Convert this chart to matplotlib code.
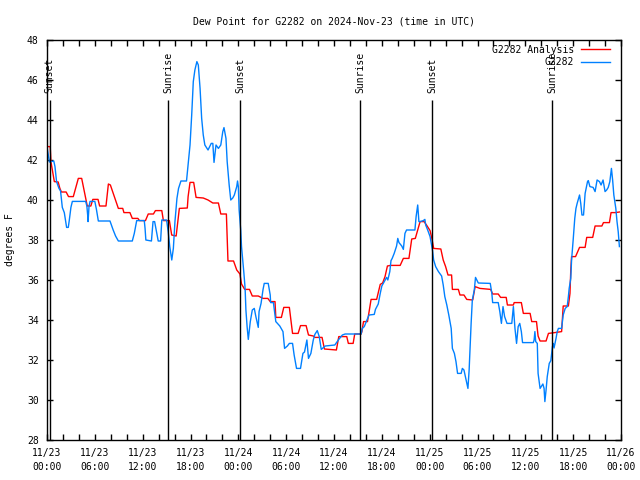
import matplotlib
matplotlib.use("Agg")
import matplotlib.pyplot as plt
import matplotlib.dates as mdates
import pandas as pd

plt.rcParams["font.family"] = ["DejaVu Sans Mono"]
plt.rcParams["font.size"] = 7

# hours since 2024-11-23 00:00 UTC, dew point in F
analysis_h = [0, 0.4, 0.5, 0.92, 1.4, 1.6, 1.8, 2.4, 2.7, 3.3, 3.93, 4.35, 4.9, 5.05, 5.5, 5.75,
              6.4, 6.6, 7.4, 7.7, 7.95, 8.95, 9.5, 9.65, 10.4, 10.7, 11.4, 11.6, 12.35, 12.7, 13.35,
              13.6, 14.4, 14.6, 15.35, 15.64, 16.2, 16.6, 17.6, 17.7, 17.94, 18.4, 18.7, 19.6, 20.2,
              20.8, 21.5, 21.8, 22.5, 22.7, 23.4, 23.8, 24.2, 24.4, 24.8, 25.4, 25.75, 26.5, 27.1,
              27.7, 28.0, 28.6, 28.7, 29.4, 29.7, 30.4, 30.8, 31.5, 31.8, 32.5, 32.8, 33.4, 33.6,
              34.5, 34.8, 36.3, 36.6, 37.6, 37.8, 38.4, 38.6, 39.4, 39.5, 39.7, 40.2, 40.65, 41.35,
              41.8, 42.1, 42.4, 42.7, 43.1, 44.3, 44.7, 45.4, 45.75, 46.2, 46.8, 47.3, 47.6, 48.05,
              48.3, 48.5, 49.4, 49.7, 50.0, 50.3, 50.75, 50.85, 51.6, 51.8, 52.3, 52.65, 53.4, 53.7,
              54.3, 55.65, 55.9, 56.6, 56.9, 57.6, 57.75, 58.5, 58.6, 59.5, 59.75, 60.6, 60.8, 61.4,
              61.6, 61.85, 62.6, 62.9, 63.7, 64.55, 64.75, 65.4, 65.6, 65.7, 65.8, 66.3, 66.8, 67.5,
              67.7, 68.45, 68.75, 69.6, 69.8, 70.55, 70.75, 71.3, 71.8]
analysis_v = [42.67, 42.67, 41.9, 40.92, 40.9, 40.6, 40.4, 40.4, 40.17, 40.17, 41.08, 41.08, 40.0,
              39.7, 39.7, 40.03, 40.03, 39.7, 39.7, 40.8, 40.75, 39.58, 39.58, 39.37, 39.37, 39.08,
              39.08, 38.97, 38.97, 39.3, 39.3, 39.47, 39.47, 38.97, 38.97, 38.25, 38.2, 39.58, 39.6,
              40.17, 40.88, 40.88, 40.13, 40.1, 40.0, 39.85, 39.85, 39.3, 39.3, 36.95, 36.95, 36.5,
              36.3, 35.8, 35.53, 35.53, 35.2, 35.2, 35.08, 35.08, 34.92, 34.92, 34.13, 34.13, 34.63,
              34.63, 33.33, 33.33, 33.72, 33.72, 33.25, 33.2, 33.13, 33.13, 32.55, 32.5, 33.17, 33.17,
              32.83, 32.83, 33.3, 33.3, 33.42, 33.92, 33.92, 35.03, 35.03, 35.78, 35.85, 36.17, 36.7,
              36.73, 36.73, 37.08, 37.08, 38.05, 38.08, 38.92, 38.92, 38.75, 38.47, 38.03, 37.58,
              37.55, 37.0, 36.67, 36.25, 36.25, 35.53, 35.53, 35.25, 35.25, 35.03, 35.0, 35.67,
              35.58, 35.53, 35.3, 35.3, 35.13, 35.13, 34.75, 34.75, 34.87, 34.87, 34.33, 34.33,
              33.92, 33.92, 33.2, 32.95, 32.95, 33.33, 33.37, 33.42, 34.7, 34.7, 35.33, 36.5, 37.17,
              37.17, 37.63, 37.63, 38.13, 38.13, 38.7, 38.7, 38.87, 38.87, 39.37, 39.37, 39.4]

obs_h = [0, 0.2, 0.3, 0.85, 1.0, 1.2, 1.5, 1.7, 1.92, 2.17, 2.34, 2.46, 2.67, 2.8, 3.0, 3.18, 4.85,
         5.0, 5.1, 5.15, 5.27, 5.4, 6.0, 6.2, 6.44, 7.9, 8.3, 8.6, 8.95, 10.7, 10.95, 11.25, 12.2,
         12.3, 12.4, 13.1, 13.3, 13.5, 13.7, 13.95, 14.25, 14.4, 15.0, 15.2, 15.4, 15.65, 15.85,
         16.05, 16.3, 16.5, 16.8, 17.5, 17.7, 17.94, 18.15, 18.35, 18.55, 18.8, 18.98, 19.2, 19.4,
         19.6, 19.8, 20.2, 20.4, 20.6, 20.8, 20.95, 21.2, 21.5, 21.8, 22.05, 22.2, 22.45, 22.6,
         22.85, 23.05, 23.3, 23.5, 23.8, 23.9, 24.0, 24.1, 24.3, 24.4, 24.55, 24.7, 24.85, 24.95,
         25.1, 25.25, 25.5, 25.75, 26.0, 26.2, 26.5, 26.6, 26.85, 27.1, 27.25, 27.75, 28.0, 28.05,
         28.4, 28.7, 29.2, 29.6, 29.8, 30.15, 30.4, 30.8, 31.0, 31.3, 31.8, 32.1, 32.3, 32.6, 32.8,
         33.1, 33.4, 33.6, 33.9, 34.15, 34.4, 34.9, 36.1, 36.6, 37.05, 37.4, 39.4, 39.55, 39.8,
         40.1, 40.4, 41.05, 41.2, 41.55, 41.8, 42.0, 42.3, 42.6, 42.75, 43.0, 43.15, 43.3, 43.55,
         43.85, 44.0, 44.15, 44.5, 44.7, 44.9, 45.1, 46.15, 46.3, 46.5, 46.65, 46.8, 47.2, 47.4,
         47.5, 47.75, 48.05, 48.35, 48.5, 48.75, 49.1, 49.5, 49.7, 49.9, 50.15, 50.4, 50.7, 50.85,
         51.1, 51.3, 51.5, 51.95, 52.1, 52.3, 52.65, 52.8, 52.95, 53.2, 53.35, 53.6, 53.75, 54.1,
         55.6, 55.8, 55.9, 56.6, 56.8, 57.0, 57.2, 57.4, 57.7, 58.3, 58.5, 58.7, 58.9, 59.1, 59.3,
         59.5, 59.65, 61.0, 61.1, 61.2, 61.3, 61.5, 61.6, 61.85, 62.0, 62.2, 62.35, 62.45, 62.6,
         62.75, 63.0, 63.2, 63.4, 63.5, 63.6, 63.85, 64.0, 64.15, 64.55, 64.75, 65.0, 65.25, 65.4,
         65.5, 65.7, 65.8, 66.0, 66.2, 66.35, 66.5, 66.8, 66.95, 67.1, 67.3, 67.5, 67.8, 67.9,
         68.1, 68.5, 68.75, 69.0, 69.3, 69.5, 69.75, 70.0, 70.2, 70.4, 70.6, 70.8, 70.95, 71.1,
         71.35, 71.5, 71.65, 71.8]
obs_v = [42.67, 42.17, 41.9, 41.95, 41.67, 40.92, 40.58, 40.45, 39.63, 39.37, 38.92, 38.63, 38.63,
         39.0, 39.63, 39.93, 39.93, 39.7, 39.25, 38.92, 39.67, 39.93, 39.93, 39.53, 38.95, 38.95,
         38.5, 38.2, 37.95, 37.95, 38.33, 38.97, 38.97, 38.58, 38.0, 37.95, 38.92, 38.92, 38.5,
         37.95, 37.95, 39.0, 39.0, 38.42, 37.67, 37.0, 37.58, 38.92, 40.08, 40.58, 40.95, 40.95,
         41.75, 42.75, 44.25, 45.92, 46.5, 46.92, 46.75, 45.58, 44.08, 43.25, 42.75, 42.5, 42.67,
         42.83, 42.83, 41.88, 42.75, 42.58, 42.75, 43.42, 43.62, 43.08, 41.92, 40.75, 40.0, 40.1,
         40.25, 40.67, 40.95, 40.67, 39.5, 38.5, 37.67, 37.0, 36.33, 35.58, 34.5, 33.67, 33.03,
         33.92, 34.5, 34.58, 34.17, 33.63, 34.42, 34.83, 35.53, 35.83, 35.83, 35.25, 34.87, 34.87,
         33.92, 33.7, 33.42, 32.58, 32.7, 32.83, 32.83, 32.25, 31.58, 31.58, 32.33, 32.4, 33.0,
         32.08, 32.33, 33.0, 33.28, 33.47, 33.17, 32.53, 32.7, 32.75, 33.03, 33.25, 33.3, 33.3,
         33.58, 33.67, 33.97, 34.25, 34.28, 34.53, 34.8, 35.33, 35.7, 35.92, 36.13, 36.0, 36.42,
         36.97, 37.08, 37.33, 37.7, 38.08, 37.87, 37.7, 37.53, 38.33, 38.5, 38.5, 39.17, 39.75,
         38.92, 38.92, 38.97, 39.03, 38.75, 38.5, 38.17, 37.5, 37.0, 36.67, 36.42, 36.2, 35.75,
         35.17, 34.75, 34.25, 33.58, 32.58, 32.33, 31.92, 31.33, 31.33, 31.58, 31.5, 30.87, 30.58,
         31.5, 33.83, 35.0, 35.5, 36.13, 35.85, 35.83, 35.33, 34.87, 34.87, 34.42, 33.83, 34.67,
         34.17, 33.83, 33.83, 34.67, 33.58, 32.83, 33.67, 33.83, 33.42, 32.87, 32.87, 33.0, 33.42,
         32.92, 32.83, 31.33, 30.58, 30.67, 30.8, 30.58, 29.92, 30.5, 31.17, 31.83, 31.97, 32.67,
         32.83, 32.6, 33.08, 33.42, 33.58, 33.58, 34.25, 34.58, 34.67, 35.17, 35.58, 36.08, 37.0,
         38.0, 39.08, 39.58, 39.83, 40.25, 39.83, 39.25, 39.25, 40.33, 40.92, 40.97, 40.67, 40.63,
         40.42, 41.0, 40.92, 40.75, 41.0, 40.42, 40.5, 40.63, 40.92, 41.58, 41.0, 40.25, 39.58,
         38.92, 38.42, 37.67]

sun_labels = ["Sunset", "Sunrise", "Sunset", "Sunrise", "Sunset", "Sunrise"]
sun_times = ["2024-11-23 00:20", "2024-11-23 15:13", "2024-11-24 00:15",
             "2024-11-24 15:18", "2024-11-25 00:20", "2024-11-25 15:23"]

start = pd.Timestamp("2024-11-23 00:00")
t_an = start + pd.to_timedelta(analysis_h, unit="h")
t_obs = start + pd.to_timedelta(obs_h, unit="h")

fig = plt.figure(figsize=(6.4, 4.8), dpi=100)
ax = fig.add_axes([47 / 640, 40 / 480, 574 / 640, 400 / 480])

ax.plot(t_an, analysis_v, color="#ff0000", lw=1.0, label="G2282 Analysis")
ax.plot(t_obs, obs_v, color="#0080ff", lw=1.0, label="G2282")

# sunrise / sunset markers
for lab, ts in zip(sun_labels, sun_times):
    x = pd.Timestamp(ts)
    ax.vlines(x, 28, 45.0, color="black", lw=1.0)
    ax.text(x, 45.35, lab, rotation=90, ha="center", va="bottom")

ax.set_xlim(start, pd.Timestamp("2024-11-26 00:00"))
ax.set_ylim(28, 48)
ax.set_yticks(range(28, 49, 2))
ax.xaxis.set_major_locator(mdates.HourLocator(byhour=[0, 6, 12, 18]))
ax.xaxis.set_major_formatter(mdates.DateFormatter("%m/%d\n%H:%M"))
ax.xaxis.set_minor_locator(mdates.HourLocator(byhour=range(0, 24, 2)))
ax.tick_params(which="both", direction="in", length=4, width=1, top=True, right=True)
ax.tick_params(axis="x", pad=6)
ax.tick_params(axis="y", pad=6)
for tick in ax.xaxis.get_major_ticks():
    tick.label1.set_linespacing(1.45)
for s in ax.spines.values():
    s.set_linewidth(1)

ax.set_title("Dew Point for G2282 on 2024-Nov-23 (time in UTC)", fontsize=7, pad=11)
fig.text(0.016, 0.5, "degrees F", rotation=90, ha="center", va="center")

ax.legend(loc="upper right", bbox_to_anchor=(0.989, 1.0), frameon=False, markerfirst=False,
          handlelength=3.0, handletextpad=0.7, labelspacing=0.25, borderaxespad=0.3,
          borderpad=0.2)

fig.savefig("out.png", dpi=100)
